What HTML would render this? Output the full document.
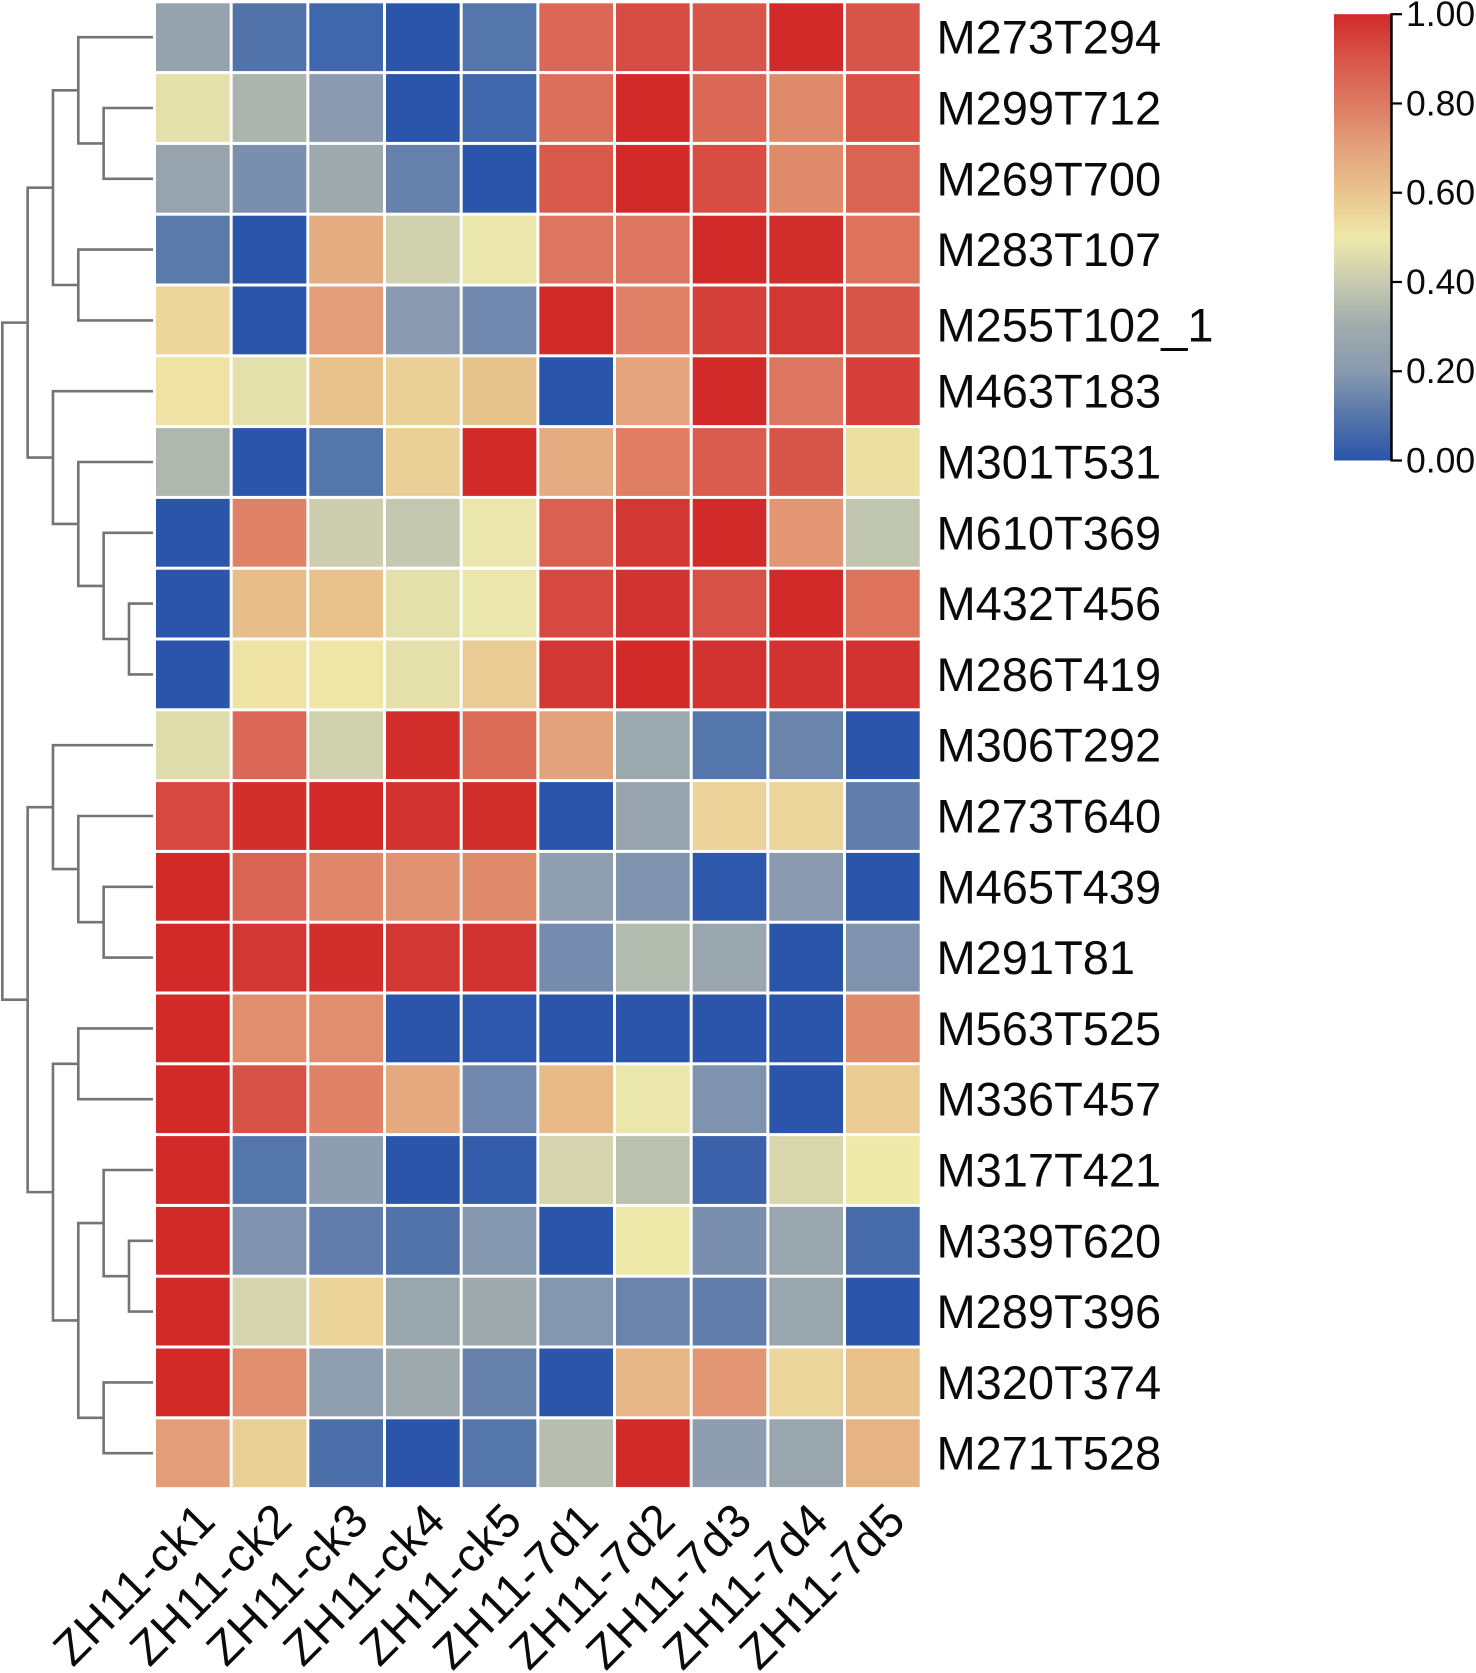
<!DOCTYPE html>
<html>
<head>
<meta charset="utf-8">
<title>Metabolite heatmap</title>
<style>
html,body{margin:0;padding:0;background:#fff;}
svg{display:block;}
text{font-family:"Liberation Sans",Arial,sans-serif;fill:#0a0a0a;}
</style>
</head>
<body>
<svg id="chart" xmlns="http://www.w3.org/2000/svg" width="1476" height="1673" viewBox="0 0 1476 1673"></svg>
<script>
const rowLabels = ["M273T294","M299T712","M269T700","M283T107","M255T102_1","M463T183","M301T531","M610T369","M432T456","M286T419","M306T292","M273T640","M465T439","M291T81","M563T525","M336T457","M317T421","M339T620","M289T396","M320T374","M271T528"];
const colLabels = ["ZH11-ck1","ZH11-ck2","ZH11-ck3","ZH11-ck4","ZH11-ck5","ZH11-7d1","ZH11-7d2","ZH11-7d3","ZH11-7d4","ZH11-7d5"];
const values = [
[.25,.09,.05,.00,.10,.85,.92,.90,1.0,.90],
[.47,.33,.20,.00,.05,.83,1.0,.85,.76,.91],
[.26,.17,.29,.13,.00,.89,1.0,.92,.76,.86],
[.11,.00,.67,.42,.49,.81,.81,1.0,.99,.82],
[.55,.00,.71,.20,.15,1.0,.78,.95,.97,.90],
[.52,.47,.61,.57,.60,.00,.69,1.0,.81,.95],
[.34,.00,.10,.57,1.0,.67,.79,.88,.90,.53],
[.00,.78,.41,.39,.49,.87,.97,1.0,.73,.38],
[.00,.62,.61,.47,.49,.93,.98,.91,1.0,.82],
[.00,.52,.51,.47,.58,.97,1.0,.98,.98,.98],
[.46,.85,.42,.99,.84,.70,.28,.10,.14,.00],
[.93,.99,1.0,.98,.99,.00,.26,.56,.55,.12],
[1.0,.86,.77,.74,.76,.23,.18,.01,.20,.00],
[1.0,.97,.99,.97,.98,.16,.35,.27,.00,.18],
[1.0,.75,.75,.00,.01,.00,.00,.00,.00,.76],
[1.0,.91,.78,.68,.15,.63,.49,.18,.00,.58],
[1.0,.10,.22,.00,.02,.43,.37,.04,.44,.50],
[1.0,.18,.12,.09,.19,.00,.50,.17,.27,.07],
[1.0,.43,.56,.27,.29,.19,.14,.12,.27,.00],
[1.0,.75,.23,.29,.13,.00,.64,.73,.55,.61],
[.71,.57,.08,.00,.10,.36,1.0,.22,.27,.65]
];
const colorbarTicks = [0, 0.2, 0.4, 0.6, 0.8, 1.0];
/* dendrogram merges: [childA, childB, mergeLevel]; ids 0-20 are leaves, each merge creates the next id */
const merges = [
[1,2,2],[0,21,3],[3,4,3],[22,23,4],
[8,9,1],[7,25,2],[6,26,3],[5,27,4],[24,28,5],
[12,13,2],[11,30,3],[10,31,4],
[14,15,3],[17,18,1],[16,34,2],[19,20,2],[35,36,3],[33,37,4],[32,38,5],
[29,39,6]
];
const cmapStops = [
[0,[42,85,171]],[.1,[85,118,170]],[.2,[138,154,176]],[.3,[159,171,173]],[.4,[200,203,176]],
[.5,[239,233,170]],[.6,[232,196,141]],[.7,[227,162,124]],[.8,[222,122,98]],[.9,[216,85,74]],[1,[209,42,41]]
];

const NS = "http://www.w3.org/2000/svg";
const svg = document.getElementById("chart");
function mk(tag, attrs, parent){
  const e = document.createElementNS(NS, tag);
  for (const k in attrs) e.setAttribute(k, attrs[k]);
  (parent || svg).appendChild(e);
  return e;
}
function cmap(v){
  for (let i = 1; i < cmapStops.length; i++){
    if (v <= cmapStops[i][0]){
      const a = cmapStops[i-1], b = cmapStops[i];
      const t = (v - a[0]) / (b[0] - a[0]);
      return "rgb(" + a[1].map((c,j)=>Math.round(c + (b[1][j]-c)*t)).join(",") + ")";
    }
  }
  return "rgb(" + cmapStops[cmapStops.length-1][1].join(",") + ")";
}
const GX = 156, GY = 3.3, CW = 76.67, CH = 70.8, GAP = 3;
const xCol = i => GX + i * CW;
const yRow = i => GY + i * CH;
const yLeaf = i => yRow(i) + (CH - GAP) / 2;

/* heatmap cells */
const gCells = mk("g", {});


values.forEach((row, r) => {
  row.forEach((v, c) => {
    const cell = mk("rect", {x:xCol(c), y:yRow(r), width:CW-GAP, height:CH-GAP, fill:cmap(v)}, gCells);
    
    
  });
});

/* row labels */
const gRows = mk("g", {});


rowLabels.forEach((t, r) => {
  const off = t.indexOf("_") >= 0 ? 21 : 16.5;
  const lab = mk("text", {x:936.5, y:yLeaf(r)+off, "font-size":47}, gRows);
  lab.textContent = t;
  
  
});

/* column labels */
const gCols = mk("g", {});


colLabels.forEach((t, c) => {
  const ax = xCol(c) + (CW-GAP)/2 + 25, ay = 1523;
  const lab = mk("text", {x:ax, y:ay, "font-size":47, "letter-spacing":"0.6", "text-anchor":"end", transform:"rotate(-45 "+ax+" "+ay+")"}, gCols);
  lab.textContent = t;
  
  
});

/* dendrogram */
const gTree = mk("g", {fill:"none", stroke:"#747474", "stroke-width":2.6});


const xLevel = l => l === 0 ? 153 : 154.3 - 25.33 * l;
const nodes = rowLabels.map((_, i) => ({x:xLevel(0), y:yLeaf(i)}));
merges.forEach(m => {
  const a = nodes[m[0]], b = nodes[m[1]], x = xLevel(m[2]);
  const link = mk("path", {d:"M"+a.x+" "+a.y+"H"+x+"V"+b.y+"H"+b.x}, gTree);
  
  
  nodes.push({x:x, y:(a.y+b.y)/2});
});

/* colour bar */
const BX = 1334, BW = 56.5, BT = 14.2, BB = 460.5;
const yBar = v => BB - (BB - BT) * v;
const gBar = mk("g", {});


const defs = mk("defs", {});
const grad = mk("linearGradient", {id:"cbg", x1:0, y1:1, x2:0, y2:0}, defs);
cmapStops.forEach(s => {
  mk("stop", {offset:s[0], "stop-color":cmap(s[0])}, grad);
});
const ramp = mk("rect", {x:BX, y:BT, width:BW, height:BB-BT, fill:"url(#cbg)"}, gBar);


const spine = mk("line", {x1:BX+BW+1, x2:BX+BW+1, y1:BT-1, y2:BB+1, stroke:"#000", "stroke-width":2.5}, gBar);


colorbarTicks.forEach(v => {
  const y = yBar(v);
  const tick = mk("line", {x1:BX+BW+1, x2:1402, y1:y, y2:y, stroke:"#000", "stroke-width":2.2}, gBar);
  
  
  const lab = mk("text", {x:1406, y:y+12, "font-size":35.5}, gBar);
  lab.textContent = v.toFixed(2);
  
  
});
</script>
</body>
</html>
